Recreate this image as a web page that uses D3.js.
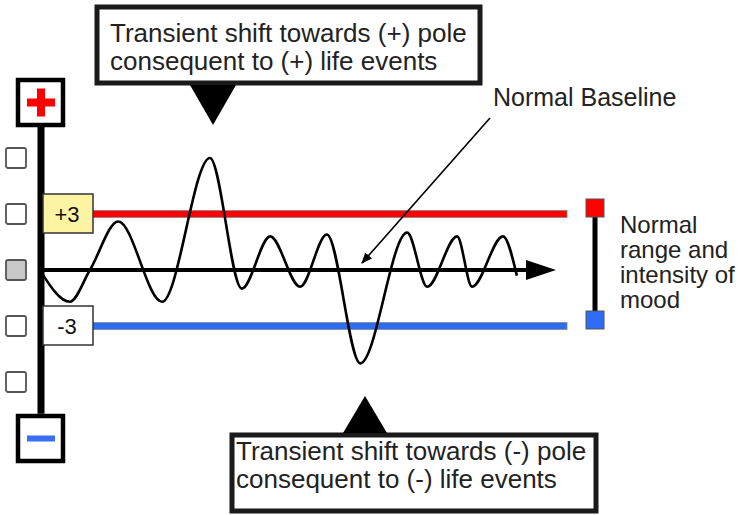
<!DOCTYPE html>
<html>
<head>
<meta charset="utf-8">
<script src="https://cdn.jsdelivr.net/npm/d3@7"></script>
<style>
  body { margin: 0; background: #fff; }
  svg { display: block; }
  text { font-family: "Helvetica Neue", Helvetica, Arial, "Liberation Sans", sans-serif; fill: #222; }
</style>
</head>
<body>
<svg width="750" height="515"></svg>
<script>
// mood wave: time (0-100) and mood level (units, +-3 = normal range)
const waveT = [0, 5.6, 9.5, 15, 23.5, 32.8, 39, 44.5, 50.3, 55.5, 62, 71.1, 75, 80.8, 83.7, 89.7, 92.4];
const waveMood = [-0.1, -1.7, 0, 2.6, -1.7, 6.0, -1.0, 1.8, -0.9, 1.9, -5.0, 2.0, -0.9, 1.8, -0.9, 1.8, -0.3];

// scale markers on left side
const scaleLevels = [6, 3, 0, -3, -6];
const rangeLevels = [3, -3];
const rangeLabels = ["+3", "-3"];
const rangeColors = ["#ff0000", "#2f6cf6"];
const poleLevel = 9;

const topNote = ["Transient shift towards (+) pole", "consequent to (+) life events"];
const bottomNote = ["Transient shift towards (-) pole", "consequent to (-) life events"];
const rangeNote = ["Normal", "range and", "intensity of", "mood"];
const baselineNote = "Normal Baseline";

const svg = d3.select("svg");

const x = d3.scaleLinear().domain([0, 100]).range([41, 556]);
const y = d3.scaleLinear().domain([-9, 9]).range([438, 102]);

// vertical axis
svg.append("line")
  .attr("x1", 41).attr("x2", 41)
  .attr("y1", y(7.7)).attr("y2", y(-7.7))
  .attr("stroke", "#000").attr("stroke-width", 7);

// small squares
svg.selectAll("rect.lvl")
  .data(scaleLevels)
  .enter().append("rect")
  .attr("class", "lvl")
  .attr("x", 6).attr("y", d => y(d) - 10)
  .attr("width", 20).attr("height", 20)
  .attr("rx", 2)
  .attr("fill", d => d == 0 ? "#c8c8c8" : "#fff")
  .attr("stroke", "#555").attr("stroke-width", 1.8);

// + and - pole boxes
[poleLevel, -poleLevel].forEach(function(p) {
  svg.append("rect")
    .attr("x", 18).attr("y", y(p) - 22)
    .attr("width", 45).attr("height", 45)
    .attr("fill", "#fff").attr("stroke", "#000").attr("stroke-width", 4.5);
  if (p > 0) {
    svg.append("rect").attr("x", 27).attr("y", y(p) - 3.5).attr("width", 28).attr("height", 8).attr("fill", "#ff0000");
    svg.append("rect").attr("x", 37).attr("y", y(p) - 13.5).attr("width", 8).attr("height", 28).attr("fill", "#ff0000");
  } else {
    svg.append("rect").attr("x", 27).attr("y", y(p) - 2.5).attr("width", 28).attr("height", 6).attr("fill", "#3a6ff5");
  }
});

// red and blue range lines
rangeLevels.forEach(function(lv, i) {
  svg.append("rect")
    .attr("x", 93).attr("y", y(lv) - 3.5)
    .attr("width", 474).attr("height", 7)
    .attr("fill", rangeColors[i]).attr("stroke", "#888").attr("stroke-width", 0.8);
  svg.append("rect")
    .attr("x", 43).attr("y", y(lv) - 20)
    .attr("width", 50).attr("height", 39)
    .attr("fill", i == 0 ? "#fcf3a3" : "#fff")
    .attr("stroke", "#333").attr("stroke-width", 1.5);
  svg.append("text")
    .attr("x", 67).attr("y", y(lv) + 8)
    .attr("text-anchor", "middle")
    .style("font-size", "22px")
    .style("fill", "#111")
    .text(rangeLabels[i]);
});

// baseline arrow
svg.append("line")
  .attr("x1", 38).attr("x2", 535)
  .attr("y1", y(0)).attr("y2", y(0))
  .attr("stroke", "#000").attr("stroke-width", 4);
svg.append("path")
  .attr("d", `M${x(100) - 30},${y(0) - 10} L${x(100)},${y(0)} L${x(100) - 30},${y(0) + 10} Z`)
  .attr("fill", "#000");

// mood wave
const wave = d3.line()
  .x((d, i) => x(waveT[i]))
  .y(d => y(d))
  .curve(d3.curveMonotoneX);
svg.append("path")
  .attr("d", wave(waveMood))
  .attr("fill", "none")
  .attr("stroke", "#000").attr("stroke-width", 2.6);

// right side: normal range bar
svg.append("line")
  .attr("x1", 595).attr("x2", 595)
  .attr("y1", y(3) - 6).attr("y2", y(-3) - 6)
  .attr("stroke", "#000").attr("stroke-width", 5);
svg.append("rect")
  .attr("x", 586).attr("y", y(3) - 15).attr("width", 18).attr("height", 18)
  .attr("fill", "#ff0000").attr("stroke", "#555").attr("stroke-width", 1);
svg.append("rect")
  .attr("x", 586).attr("y", y(-3) - 15).attr("width", 18).attr("height", 18)
  .attr("fill", "#2f6cf6").attr("stroke", "#555").attr("stroke-width", 1);

svg.selectAll("text.rng")
  .data(rangeNote)
  .enter().append("text")
  .attr("class", "rng")
  .attr("x", 620).attr("y", (d, i) => 233 + i * 25)
  .style("font-size", "24px")
  .text(d => d);

// Normal Baseline label and arrow
svg.append("defs").append("marker")
  .attr("id", "ah").attr("viewBox", "0 0 10 10")
  .attr("refX", 9).attr("refY", 5)
  .attr("markerWidth", 7).attr("markerHeight", 7)
  .attr("orient", "auto")
  .append("path").attr("d", "M0,1 L10,5 L0,9 Z").attr("fill", "#000");
svg.append("text")
  .attr("x", 493).attr("y", 106)
  .style("font-size", "25px")
  .text(baselineNote);
svg.append("line")
  .attr("x1", 490).attr("y1", 118)
  .attr("x2", 362).attr("y2", 263)
  .attr("stroke", "#000").attr("stroke-width", 1.6)
  .attr("marker-end", "url(#ah)");

// top callout
svg.append("rect")
  .attr("x", 97).attr("y", 7).attr("width", 383).attr("height", 76)
  .attr("fill", "#fff").attr("stroke", "#1a1a1a").attr("stroke-width", 5);
svg.append("path")
  .attr("d", "M190,85 L236,85 L213,125 Z").attr("fill", "#000");
svg.selectAll("text.top")
  .data(topNote)
  .enter().append("text")
  .attr("class", "top")
  .attr("x", 110).attr("y", (d, i) => 42 + i * 28)
  .style("font-size", "26px")
  .text(d => d);

// bottom callout
svg.append("rect")
  .attr("x", 232).attr("y", 435).attr("width", 364).attr("height", 76)
  .attr("fill", "#fff").attr("stroke", "#1a1a1a").attr("stroke-width", 5);
svg.append("path")
  .attr("d", "M343,433 L387,433 L365,396 Z").attr("fill", "#000");
svg.selectAll("text.bot")
  .data(bottomNote)
  .enter().append("text")
  .attr("class", "bot")
  .attr("x", 236).attr("y", (d, i) => 460 + i * 28)
  .style("font-size", "26px")
  .text(d => d);
</script>
</body>
</html>
